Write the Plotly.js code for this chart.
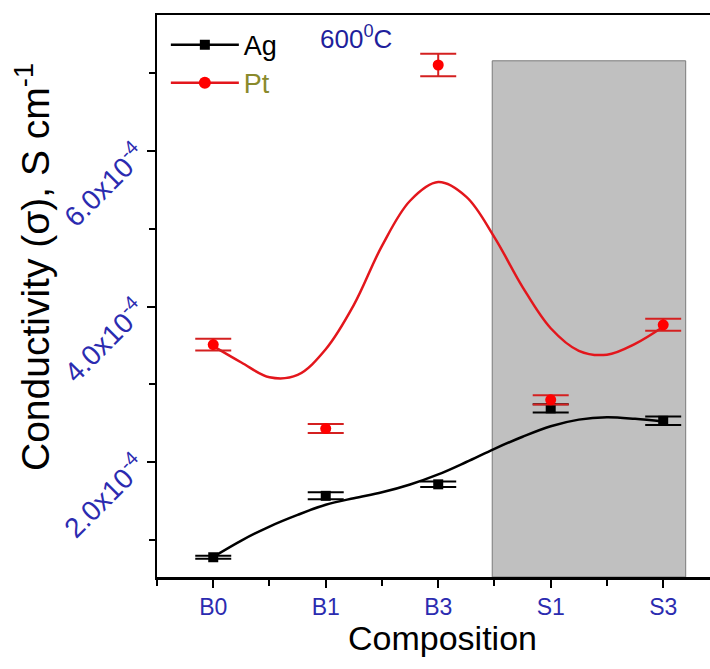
<!DOCTYPE html>
<html>
<head>
<meta charset="utf-8">
<script src="https://cdn.plot.ly/plotly-3.0.1.min.js"></script>
<style>html,body{margin:0;padding:0;background:#fff;}#chart{width:710px;height:669px;}</style>
</head>
<body>
<div id="chart"></div>
<script>
// ---- data ----
const categories = ['B0', 'B1', 'B3', 'S1', 'S3'];
const categoryIndex = [0, 1, 2, 3, 4];

const agValues = [0.775e-4, 1.565e-4, 1.713e-4, 2.69e-4, 2.53e-4];
const agErrors = [0.02e-4, 0.045e-4, 0.036e-4, 0.054e-4, 0.054e-4];

const ptValues = [3.51e-4, 2.43e-4, 7.106e-4, 2.80e-4, 3.765e-4];
const ptErrors = [0.075e-4, 0.058e-4, 0.145e-4, 0.06e-4, 0.077e-4];

// smooth fitted curves
const fitX = [0, 0.25, 0.5, 0.75, 1.0, 1.25, 1.5, 1.75, 2.0, 2.25, 2.5, 2.75, 3.0, 3.25, 3.5, 3.75, 4.0];
const agFit = [0.78e-4, 0.99e-4, 1.17e-4, 1.32e-4, 1.45e-4, 1.535e-4, 1.61e-4, 1.71e-4, 1.84e-4, 2.0e-4, 2.17e-4, 2.325e-4, 2.46e-4, 2.545e-4, 2.575e-4, 2.555e-4, 2.52e-4];
const ptFit = [3.49e-4, 3.28e-4, 3.09e-4, 3.12e-4, 3.45e-4, 4.02e-4, 4.78e-4, 5.36e-4, 5.60e-4, 5.41e-4, 4.89e-4, 4.25e-4, 3.72e-4, 3.43e-4, 3.38e-4, 3.52e-4, 3.74e-4];

const yTickVals = [2e-4, 4e-4, 6e-4];
const yTickText = ['2.0x10<sup>-4</sup>', '4.0x10<sup>-4</sup>', '6.0x10<sup>-4</sup>'];

const shadeX = [2.48, 4.2];
const shadeTop = 7.16e-4;
const xRange = [-0.5, 4.416];
const yRange = [0.521e-4, 7.749e-4];

const xTitle = 'Composition';
const yTitle = 'Conductivity (σ), S cm<sup>-1</sup>';
const tempLabel = '600<sup>0</sup>C';

// ---- styling ----
const RED = '#e3161c';
const BLACK = '#000000';
const BLUE = '#2b2bb0';
const FONT = '"Liberation Sans", Arial, sans-serif';

const traces = [
  // fitted curves
  {
    x: fitX, y: agFit, type: 'scatter', mode: 'lines', showlegend: false,
    line: {color: BLACK, width: 2.5, shape: 'spline', smoothing: 1},
    hoverinfo: 'skip'
  },
  {
    x: fitX, y: ptFit, type: 'scatter', mode: 'lines', showlegend: false,
    line: {color: RED, width: 2.5, shape: 'spline', smoothing: 1},
    hoverinfo: 'skip'
  },
  // measured points with error bars
  {
    x: categoryIndex, y: agValues, type: 'scatter', mode: 'markers', showlegend: false,
    marker: {symbol: 'square', color: BLACK, size: 10},
    error_y: {type: 'data', array: agErrors, visible: true, color: BLACK, thickness: 2, width: 18}
  },
  {
    x: categoryIndex, y: ptValues, type: 'scatter', mode: 'markers', showlegend: false,
    marker: {symbol: 'circle', color: '#ff0000', size: 11},
    error_y: {type: 'data', array: ptErrors, visible: true, color: '#d42020', thickness: 2, width: 18}
  },
  // legend entries
  {
    x: [null], y: [null], type: 'scatter', mode: 'lines+markers', name: 'Ag',
    line: {color: BLACK, width: 2.5},
    marker: {symbol: 'square', color: BLACK, size: 10}
  },
  {
    x: [null], y: [null], type: 'scatter', mode: 'lines+markers',
    name: '<span style="color:#8a8a2c">Pt</span>',
    line: {color: RED, width: 2.5},
    marker: {symbol: 'circle', color: '#ff0000', size: 12}
  }
];

const layout = {
  width: 710, height: 669,
  margin: {l: 157, r: 0, t: 15, b: 92, pad: 0},
  paper_bgcolor: '#ffffff', plot_bgcolor: 'rgba(0,0,0,0)',
  font: {family: FONT, color: BLACK},
  showlegend: true,
  legend: {
    x: 0.016, y: 0.99, xanchor: 'left', yanchor: 'top',
    bgcolor: 'rgba(0,0,0,0)', borderwidth: 0,
    font: {family: FONT, size: 27, color: BLACK},
    itemwidth: 68, tracegroupgap: 0
  },
  xaxis: {
    range: xRange, autorange: false,
    tickmode: 'array', tickvals: categoryIndex, ticktext: categories,
    tickfont: {family: FONT, size: 23, color: BLUE},
    ticks: 'outside', ticklen: 8, tickwidth: 2, tickcolor: BLACK,
    minor: {tick0: 0.5, dtick: 1, ticks: 'outside', ticklen: 6, tickwidth: 2, tickcolor: BLACK, showgrid: false},
    showline: true, linecolor: BLACK, linewidth: 2.5, mirror: true,
    showgrid: false, zeroline: false,
    automargin: false
  },
  yaxis: {
    range: yRange, autorange: false,
    tickmode: 'array', tickvals: yTickVals, ticktext: yTickText,
    tickangle: -45,
    tickfont: {family: FONT, size: 28, color: BLUE},
    ticklabelstandoff: 3,
    ticks: 'outside', ticklen: 8, tickwidth: 2, tickcolor: BLACK,
    minor: {tick0: 1e-4, dtick: 2e-4, ticks: 'outside', ticklen: 6, tickwidth: 2, tickcolor: BLACK, showgrid: false},
    showline: true, linecolor: BLACK, linewidth: 2.5, mirror: false,
    showgrid: false, zeroline: false,
    automargin: false
  },
  shapes: [
    {
      type: 'rect', xref: 'x', yref: 'y', layer: 'below',
      x0: shadeX[0], x1: shadeX[1], y0: yRange[0], y1: shadeTop,
      fillcolor: '#c0c0c0', line: {color: '#7a7a7a', width: 1}
    }
  ],
  annotations: [
    {
      xref: 'paper', yref: 'paper', x: 0.36, y: 0.96, xanchor: 'center', yanchor: 'middle',
      text: tempLabel, showarrow: false,
      font: {family: FONT, size: 26, color: '#1f1f9c'}
    },
    {
      xref: 'paper', yref: 'paper', x: 0.517, y: -0.108, xanchor: 'center', yanchor: 'middle',
      text: xTitle, showarrow: false,
      font: {family: FONT, size: 34, color: BLACK}
    },
    {
      xref: 'paper', yref: 'paper', x: -0.226, y: 0.5516, xanchor: 'center', yanchor: 'middle',
      text: yTitle, showarrow: false, textangle: -90,
      font: {family: FONT, size: 39, color: BLACK}
    }
  ]
};

Plotly.newPlot('chart', traces, layout, {staticPlot: true, displayModeBar: false});
</script>
</body>
</html>
